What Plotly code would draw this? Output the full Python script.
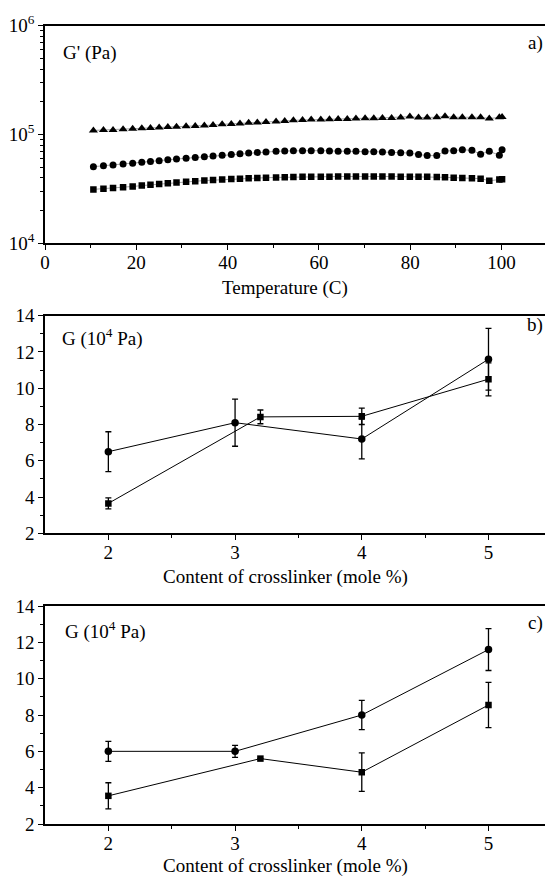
import plotly.graph_objects as go

# ---- Panel a data: G' vs temperature ----
temperature = [10.6, 12.8, 14.9, 17.1, 19.2, 21.2, 23.1, 25.0, 26.9, 28.8, 30.9, 32.9,
               34.9, 36.8, 38.8, 40.8, 42.7, 44.6, 46.5, 48.4, 50.6, 52.5, 54.4, 56.4,
               58.3, 60.4, 62.3, 64.2, 66.2, 68.1, 70.1, 72.0, 73.9, 75.9, 77.9, 79.9,
               81.8, 83.7, 85.8, 87.6, 89.5, 91.4, 93.5, 95.4, 97.3, 99.5, 100.1]
g_triangle = [1.09e5, 1.10e5, 1.10e5, 1.12e5, 1.13e5, 1.14e5, 1.15e5, 1.16e5, 1.17e5, 1.18e5,
              1.19e5, 1.20e5, 1.21e5, 1.22e5, 1.24e5, 1.25e5, 1.26e5, 1.28e5, 1.29e5, 1.30e5,
              1.32e5, 1.33e5, 1.35e5, 1.36e5, 1.37e5, 1.37e5, 1.38e5, 1.39e5, 1.39e5, 1.40e5,
              1.41e5, 1.41e5, 1.42e5, 1.42e5, 1.43e5, 1.46e5, 1.43e5, 1.43e5, 1.44e5, 1.47e5,
              1.44e5, 1.44e5, 1.44e5, 1.44e5, 1.40e5, 1.44e5, 1.45e5]
g_circle = [5.06e4, 5.15e4, 5.25e4, 5.35e4, 5.45e4, 5.55e4, 5.65e4, 5.75e4, 5.85e4, 5.95e4,
            6.05e4, 6.15e4, 6.25e4, 6.35e4, 6.45e4, 6.55e4, 6.65e4, 6.75e4, 6.85e4, 6.92e4,
            7.00e4, 7.05e4, 7.10e4, 7.10e4, 7.10e4, 7.10e4, 7.05e4, 7.00e4, 7.00e4, 7.00e4,
            6.95e4, 6.95e4, 6.90e4, 6.85e4, 6.80e4, 6.75e4, 6.55e4, 6.40e4, 6.40e4, 7.05e4,
            7.10e4, 7.25e4, 7.15e4, 6.60e4, 7.00e4, 6.45e4, 7.25e4]
g_square = [3.13e4, 3.17e4, 3.22e4, 3.28e4, 3.33e4, 3.39e4, 3.45e4, 3.50e4, 3.56e4, 3.62e4,
            3.67e4, 3.72e4, 3.77e4, 3.81e4, 3.85e4, 3.89e4, 3.93e4, 3.96e4, 3.99e4, 4.01e4,
            4.03e4, 4.05e4, 4.07e4, 4.09e4, 4.10e4, 4.10e4, 4.10e4, 4.11e4, 4.11e4, 4.12e4,
            4.12e4, 4.12e4, 4.11e4, 4.11e4, 4.10e4, 4.10e4, 4.09e4, 4.08e4, 4.07e4, 4.04e4,
            4.01e4, 3.99e4, 3.97e4, 3.93e4, 3.76e4, 3.86e4, 3.87e4]

# ---- Panel b data ----
b_circle_x = [2, 3, 4, 5]
b_circle_y = [6.5, 8.1, 7.2, 11.6]
b_circle_up = [1.1, 1.3, 1.1, 1.7]
b_circle_dn = [1.1, 1.3, 1.1, 1.7]
b_square_x = [2, 3.2, 4, 5]
b_square_y = [3.65, 8.42, 8.45, 10.5]
b_square_up = [0.3, 0.38, 0.45, 0.9]
b_square_dn = [0.3, 0.38, 0.45, 0.92]

# ---- Panel c data ----
c_circle_x = [2, 3, 4, 5]
c_circle_y = [6.0, 6.0, 8.0, 11.6]
c_circle_up = [0.55, 0.33, 0.8, 1.15]
c_circle_dn = [0.55, 0.33, 0.8, 1.15]
c_square_x = [2, 3.2, 4, 5]
c_square_y = [3.55, 5.6, 4.85, 8.55]
c_square_up = [0.72, 0.0, 1.07, 1.25]
c_square_dn = [0.72, 0.0, 1.05, 1.25]

FONT = "Liberation Serif"
FS = 19
W, H = 545, 876

fig = go.Figure()

thin = dict(color="#666666", width=0.6)
fig.add_trace(go.Scatter(x=temperature, y=g_triangle, mode="lines+markers",
                         line=thin, marker=dict(symbol="triangle-up", size=8, color="black"),
                         xaxis="x", yaxis="y", showlegend=False))
fig.add_trace(go.Scatter(x=temperature, y=g_circle, mode="lines+markers",
                         line=thin, marker=dict(symbol="circle", size=7, color="black"),
                         xaxis="x", yaxis="y", showlegend=False))
fig.add_trace(go.Scatter(x=temperature, y=g_square, mode="lines+markers",
                         line=thin, marker=dict(symbol="square", size=6.5, color="black"),
                         xaxis="x", yaxis="y", showlegend=False))


def err(up, dn):
    return dict(type="data", symmetric=False, array=up, arrayminus=dn,
                color="black", thickness=1.3, width=3)


for xs, ys, up, dn, sym, sz, ax in [
    (b_circle_x, b_circle_y, b_circle_up, b_circle_dn, "circle", 7.5, ("x2", "y2")),
    (b_square_x, b_square_y, b_square_up, b_square_dn, "square", 6.5, ("x2", "y2")),
    (c_circle_x, c_circle_y, c_circle_up, c_circle_dn, "circle", 7.5, ("x3", "y3")),
    (c_square_x, c_square_y, c_square_up, c_square_dn, "square", 6.5, ("x3", "y3")),
]:
    fig.add_trace(go.Scatter(x=xs, y=ys, mode="lines+markers",
                             line=dict(color="black", width=1),
                             marker=dict(symbol=sym, size=sz, color="black"),
                             error_y=err(up, dn),
                             xaxis=ax[0], yaxis=ax[1], showlegend=False))

tickfont = dict(family=FONT, size=FS, color="black")
common_x = dict(showline=True, linecolor="black", linewidth=1.5, mirror=True,
                ticks="outside", ticklen=5, tickwidth=1.2, tickcolor="black",
                showgrid=False, zeroline=False, tickfont=tickfont, automargin=False,
                ticklabelstandoff=-4)
common_y = dict(showline=True, linecolor="black", linewidth=1.5, mirror=False,
                ticks="outside", ticklen=5, tickwidth=1.2, tickcolor="black",
                showgrid=False, zeroline=False, tickfont=tickfont, automargin=False)

xd = [45 / W, 1.0]


def ydom(top, bottom):
    return [(H - bottom) / H, (H - top) / H]


minor_log = [m * 10 ** e for e in (4, 5) for m in range(2, 10)]
mk = dict(ticks="outside", ticklen=3, tickwidth=1.2, tickcolor="black")

fig.update_layout(
    width=W, height=H, margin=dict(l=0, r=0, t=0, b=0, autoexpand=False),
    paper_bgcolor="white", plot_bgcolor="white",
    font=dict(family=FONT, color="black", size=FS),
    xaxis=dict(common_x, domain=xd, range=[0, 109.5], anchor="y",
               tickvals=[0, 20, 40, 60, 80, 100],
               minor=dict(mk, tickvals=[10, 30, 50, 70, 90])),
    yaxis=dict(common_y, domain=ydom(25.7, 243.3), type="log", range=[4, 6], anchor="x",
               tickvals=[1e4, 1e5, 1e6],
               ticktext=["10<sup>4</sup>", "10<sup>5</sup>", "10<sup>6</sup>"],
               minor=dict(mk, tickvals=minor_log)),
    xaxis2=dict(common_x, domain=xd, range=[1.5, 5.446], anchor="y2",
                tickvals=[2, 3, 4, 5],
                minor=dict(mk, tickvals=[2.5, 3.5, 4.5])),
    yaxis2=dict(common_y, domain=ydom(315.7, 533.3), range=[2, 14], anchor="x2",
                tickvals=[2, 4, 6, 8, 10, 12, 14],
                minor=dict(mk, tickvals=[3, 5, 7, 9, 11, 13])),
    xaxis3=dict(common_x, domain=xd, range=[1.5, 5.446], anchor="y3",
                tickvals=[2, 3, 4, 5],
                minor=dict(mk, tickvals=[2.5, 3.5, 4.5])),
    yaxis3=dict(common_y, domain=ydom(606, 824), range=[2, 14], anchor="x3",
                tickvals=[2, 4, 6, 8, 10, 12, 14],
                minor=dict(mk, tickvals=[3, 5, 7, 9, 11, 13])),
)

annots = [
    ("G' (Pa)", 61 / W, (H - 53) / H, "left"),
    ("a)", 545 / W, (H - 43) / H, "right"),
    ("G (10<sup>4</sup> Pa)", 60 / W, (H - 337) / H, "left"),
    ("b)", 545 / W, (H - 325) / H, "right"),
    ("G (10<sup>4</sup> Pa)", 63 / W, (H - 630) / H, "left"),
    ("c)", 545 / W, (H - 623) / H, "right"),
    ("Temperature (C)", 285 / W, (H - 288) / H, "center"),
    ("Content of crosslinker (mole %)", 285 / W, (H - 577) / H, "center"),
    ("Content of crosslinker (mole %)", 285 / W, (H - 866) / H, "center"),
]
for txt, x, y, anc in annots:
    fig.add_annotation(text=txt, x=x, y=y, xref="paper", yref="paper",
                       xanchor=anc, yanchor="middle", showarrow=False,
                       font=dict(family=FONT, size=FS, color="black"))

fig.write_html("out.html")
